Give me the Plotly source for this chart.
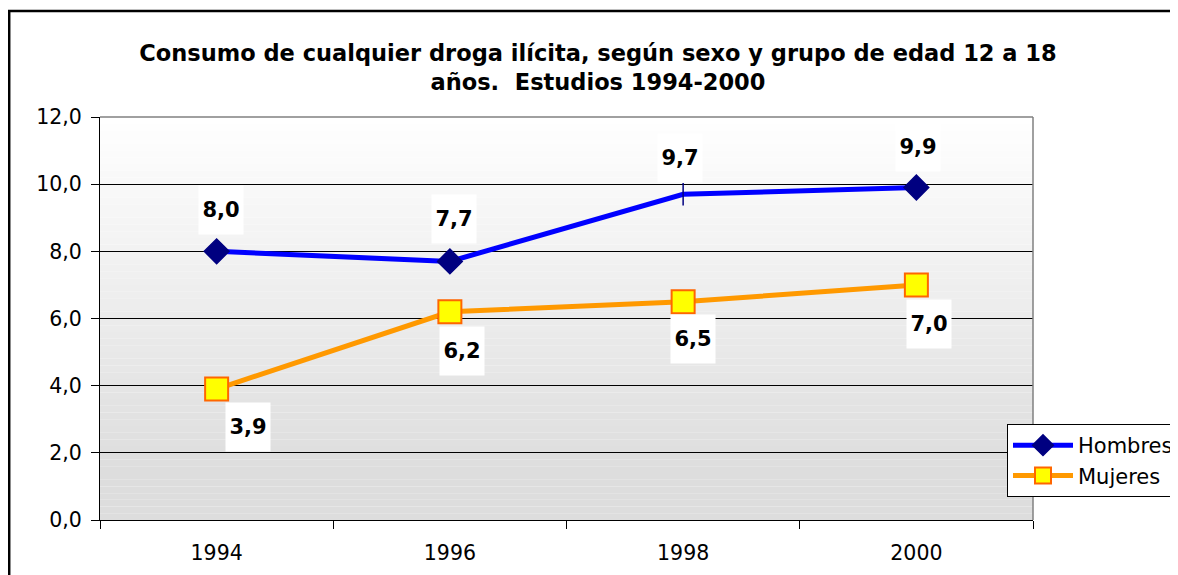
import plotly.graph_objects as go

# ---- data ----
years = ["1994", "1996", "1998", "2000"]
hombres = [8.0, 7.7, 9.7, 9.9]
mujeres = [3.9, 6.2, 6.5, 7.0]
hombres_symbols = ["diamond", "diamond", "line-ns", "diamond"]
hombres_sizes = [19, 19, 16, 19]
y_ticks = [0, 2, 4, 6, 8, 10, 12]

title_text = ("<b>Consumo de cualquier droga ilícita, según sexo y grupo de edad 12 a 18"
              "<br>años.  Estudios 1994-2000</b>")

FONT = "DejaVu Sans, Arial, sans-serif"

# page body has an 8px margin: figure starts at (8, 8)
OFF = 8
W, H = 1178 - OFF, 575 - OFF
L, R, T, B = 100 - OFF, 1178 - 1033, 117 - OFF, 575 - 520
PW, PH = 933, 403

fig = go.Figure()

# gradient background bands (white at top to light gray at bottom)
n_bands = 60
y_max = 12.0
for i in range(n_bands):
    y0 = y_max * i / n_bands
    y1 = y_max * (i + 1) / n_bands
    ym = (y0 + y1) / 2
    t = max(0.0, min(1.0, (ym - 1.5) / (12 - 1.5)))
    c = int(round(221 + 34 * t))
    fig.add_shape(type="rect", xref="x domain", yref="y", x0=0, x1=1, y0=y0, y1=y1,
                  fillcolor=f"rgb({c},{c},{c})", line=dict(width=0), layer="below")

fig.add_trace(go.Scatter(
    x=years, y=hombres, name="Hombres", mode="lines+markers",
    line=dict(color="#0000FF", width=5),
    marker=dict(symbol=hombres_symbols, size=hombres_sizes, color="#000080", opacity=1,
                line=dict(color="#000080", width=1.5)),
    hoverinfo="skip",
))
fig.add_trace(go.Scatter(
    x=years, y=mujeres, name="Mujeres", mode="lines+markers",
    line=dict(color="#FF9900", width=5),
    marker=dict(symbol="square", size=23, color="#FFFF00", opacity=1,
                line=dict(color="#FF6600", width=2)),
    hoverinfo="skip",
))

def fmt(v):
    return f"{v:.1f}".replace(".", ",")

h_offsets = [(4, 41), (4, 42), (-3, 36), (2, 41)]
m_offsets = [(31, -38), (12, -39), (10, -37), (13, -39)]

for i, (v, (dx, dy)) in enumerate(zip(hombres, h_offsets)):
    fig.add_annotation(x=i, y=v, xref="x", yref="y", text=f"<b>{fmt(v)}</b>",
                       showarrow=False, xshift=dx, yshift=dy, bgcolor="white",
                       width=40, height=44, borderpad=2,
                       font=dict(family=FONT, size=21, color="black"))
for i, (v, (dx, dy)) in enumerate(zip(mujeres, m_offsets)):
    fig.add_annotation(x=i, y=v, xref="x", yref="y", text=f"<b>{fmt(v)}</b>",
                       showarrow=False, xshift=dx, yshift=dy, bgcolor="white",
                       width=40, height=44, borderpad=2,
                       font=dict(family=FONT, size=21, color="black"))

# plot-area border (top and right in gray)
fig.add_shape(type="line", xref="x domain", yref="y domain", x0=0, x1=1, y0=1, y1=1,
              line=dict(color="#808080", width=1.5), layer="above")
fig.add_shape(type="line", xref="x domain", yref="y domain", x0=1, x1=1, y0=0, y1=1,
              line=dict(color="#808080", width=1.5), layer="above")

# outer chart frame
fig.add_shape(type="rect", xref="paper", yref="paper",
              x0=(9.2 - 100) / PW, x1=1.3, y0=-0.3, y1=(520 - 10.9) / PH,
              line=dict(color="black", width=2.5), fillcolor="rgba(0,0,0,0)", layer="above")

fig.update_layout(
    width=W, height=H,
    margin=dict(l=L, r=R, t=T, b=B, pad=0, autoexpand=False),
    paper_bgcolor="white", plot_bgcolor="white",
    separators=",.",
    font=dict(family=FONT, size=20, color="black"),
    title=dict(text=title_text, x=(598 - OFF) / W, xanchor="center", xref="container",
               y=1 - (60.5 - OFF) / H, yanchor="middle", yref="container",
               font=dict(family=FONT, size=22.5, color="black")),
    showlegend=True,
    legend=dict(x=(1007 - 100) / PW, y=(520 - 424) / PH, xanchor="left", yanchor="top",
                bgcolor="white", bordercolor="black", borderwidth=1,
                font=dict(family=FONT, size=21, color="black"),
                itemwidth=60, tracegroupgap=0),
    xaxis=dict(type="category", tickson="boundaries", showgrid=False,
               showline=True, linecolor="black", linewidth=1,
               ticks="outside", ticklen=8, tickcolor="black",
               ticklabelstandoff=14, range=[-0.5, 3.5], zeroline=False,
               tickfont=dict(family=FONT, size=20.5)),
    yaxis=dict(range=[0, 12], tickvals=y_ticks, tickformat=".1f",
               showgrid=True, gridcolor="black", gridwidth=1,
               showline=True, linecolor="black", linewidth=1,
               ticks="outside", ticklen=8, tickcolor="black",
               ticklabelstandoff=5, zeroline=False,
               tickfont=dict(family=FONT, size=20.5)),
)

fig.write_html("out.html")
